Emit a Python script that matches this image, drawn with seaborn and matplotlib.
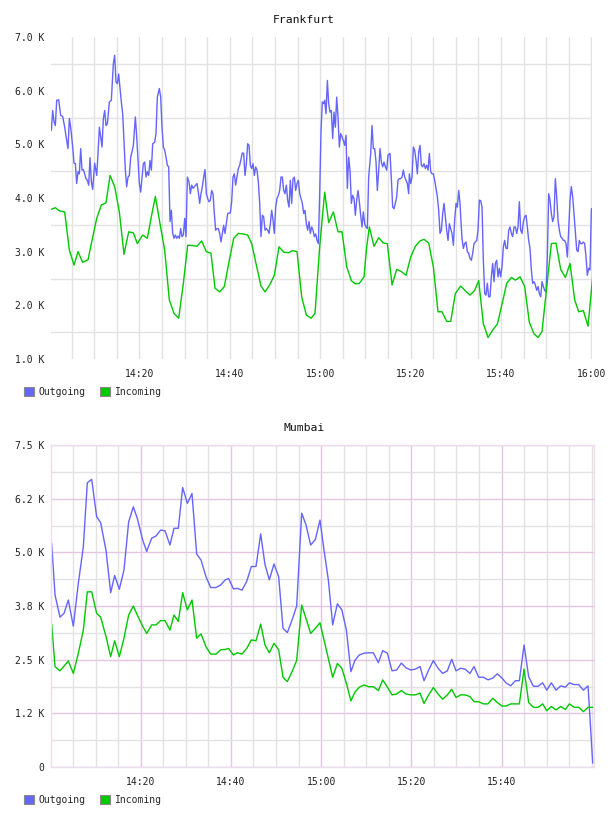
import numpy as np
import pandas as pd
import matplotlib
matplotlib.use("Agg")
import matplotlib.pyplot as plt
import seaborn as sns
from matplotlib.patches import Patch

sns.set_theme(style="white")
plt.rcParams['font.family'] = ['DejaVu Sans Mono', 'DejaVu Sans']

# ---------------- data (minutes after 14:00, bytes) ----------------
series_names = ["Outgoing", "Incoming"]
series_colors = ["#6464ff", "#00c800"]

fra_out_t = [0.54,0.83,1.13,1.42,1.72,2.16,2.60,3.04,3.49,3.93,4.22,4.52,4.81,5.26,5.55,5.85,6.14,6.44,6.73,7.03,
 7.32,7.62,7.91,8.21,8.50,8.80,9.09,9.39,9.68,10.12,10.57,10.86,11.16,11.45,11.75,12.04,12.34,12.63,12.93,13.37,
 13.81,14.25,14.55,14.84,15.14,15.43,15.73,16.02,16.32,16.61,16.91,17.20,17.50,17.79,18.09,18.38,18.68,19.12,19.42,19.71,
 20.01,20.30,20.60,20.89,21.19,21.48,21.78,22.07,22.37,22.66,22.96,23.40,23.69,23.99,24.43,24.73,25.02,25.32,25.61,25.91,
 26.20,26.50,26.79,27.09,27.38,27.68,27.97,28.27,28.56,28.86,29.15,29.45,29.74,30.04,30.33,30.63,30.99,31.29,31.58,31.88,
 32.17,32.47,32.76,33.06,33.35,33.65,33.94,34.24,34.53,34.83,35.12,35.42,35.71,36.01,36.30,36.60,36.89,37.19,37.48,37.78,
 38.07,38.37,38.66,38.96,39.25,39.55,39.84,40.14,40.43,40.73,41.02,41.32,41.61,41.91,42.20,42.50,42.79,43.09,43.38,43.68,
 43.97,44.27,44.56,44.86,45.15,45.45,45.74,46.04,46.33,46.63,46.92,47.22,47.51,47.81,48.10,48.40,48.69,48.99,49.28,49.58,
 49.87,50.17,50.46,50.76,51.05,51.35,51.64,51.94,52.23,52.53,52.82,53.12,53.41,53.71,54.00,54.30,54.59,54.89,55.18,55.48,
 55.77,56.07,56.36,56.66,56.95,57.25,57.54,57.84,58.13,58.43,58.72,59.02,59.31,59.61,59.90,60.20,60.49,60.79,61.01,61.30,
 61.60,61.89,62.19,62.48,62.78,63.07,63.37,63.66,63.96,64.25,64.55,64.84,65.14,65.43,65.73,66.02,66.32,66.61,66.91,67.20,
 67.50,67.79,68.09,68.38,68.68,68.97,69.27,69.56,69.86,70.15,70.45,70.74,71.19,71.48,71.78,72.07,72.37,72.66,72.96,73.25,
 73.55,73.84,74.14,74.43,74.73,75.02,75.46,75.76,76.05,76.35,76.64,76.94,77.23,77.53,77.82,78.12,78.41,78.71,79.00,79.30,
 79.59,79.74,80.04,80.33,80.63,80.92,81.22,81.51,81.81,82.10,82.40,82.69,82.99,83.28,83.58,83.87,84.17,84.46,84.76,85.05,
 85.35,85.64,85.94,86.23,86.53,86.82,87.12,87.41,87.71,88.00,88.30,88.59,88.89,89.18,89.48,89.77,90.07,90.36,90.66,90.95,
 91.10,91.39,91.69,91.98,92.28,92.57,92.87,93.16,93.46,93.75,94.05,94.34,94.64,94.93,95.23,95.52,95.82,96.11,96.41,96.70,
 97.00,97.29,97.59,97.88,98.18,98.47,98.77,99.06,99.36,99.65,99.95,100.24,100.54,100.83,101.13,101.42,101.72,102.01,102.31,102.60,
 102.90,103.19,103.49,103.78,104.08,104.37,104.67,104.96,105.26,105.55,105.85,106.14,106.44,106.73,107.03,107.32,107.62,107.91,108.21,108.50,
 108.80,109.09,109.39,109.68,109.98,110.27,110.57,110.86,111.16,111.45,111.75,112.04,112.34,112.63,112.93,113.22,113.52,113.81,114.11,114.40,
 114.70,114.99,115.29,115.58,115.88,116.17,116.47,116.76,117.06,117.35,117.65,117.94,118.24,118.53,118.83,119.12,119.42,119.71,120.01,120.30]
fra_out_v = [5260,5630,5420,5350,5820,5830,5540,5520,5320,5070,4920,5480,5320,4950,4650,4640,4270,4490,4450,4920,
 4520,4530,4450,4360,4330,4240,4750,4300,4160,4650,4420,4830,5320,5140,4950,5480,5630,5350,5380,5790,
 5820,6500,6660,6160,6130,6310,6040,5790,5570,5070,4520,4210,4390,4420,4760,4860,4980,5510,5140,4700,
 4270,4110,4390,4640,4670,4390,4490,4420,4700,4520,5010,5040,5200,5880,6040,5880,5320,4950,4890,4760,
 4610,4580,3560,3770,3340,3250,3310,3250,3290,3250,3430,3280,3310,3620,3280,4390,4300,4080,4240,4180,
 4210,4240,4270,4110,3900,4080,4210,4390,4530,4080,3990,3930,3960,4140,4080,3710,3400,3430,3430,3340,
 3180,3340,3490,3340,3520,3710,3720,3720,3930,4390,4450,4240,4390,4550,4610,4730,4840,4830,4420,4640,
 5010,4980,4610,4550,4640,4420,4580,4520,4300,3900,3280,3680,3650,3400,3430,3400,3340,3520,3770,3590,
 3340,3830,3990,4050,4140,4390,4390,4140,4080,4240,3960,3830,4330,3900,4360,4390,4140,4270,4330,4080,
 3990,3900,3710,3770,3520,3400,3560,3340,3460,3400,3280,3330,3210,3150,4080,5260,5790,5760,5820,5570,
 6190,5760,5600,5630,5110,5600,5320,5880,5510,4950,5200,5140,5070,4980,5170,4180,4760,4520,3900,4050,
 3990,3680,3960,4140,3930,3680,3460,3740,3520,3460,3430,4390,4830,5350,4920,4920,4670,4140,4520,4920,
 4670,4580,4670,4580,4520,4800,4830,4360,3830,3800,3900,4020,4330,4360,4360,4390,4520,4390,4330,4270,
 4080,4450,4270,4390,4950,4890,4700,4450,4860,4980,4610,4580,4640,4550,4610,4520,4830,4490,4450,4450,
 4330,4180,4020,3770,3340,3400,3710,3900,3650,3400,3210,3520,3430,3340,3120,3590,3900,3830,4140,3900,
 3650,3250,3060,3150,3180,3000,2970,2870,2840,2970,3150,3180,3210,3400,3960,3950,3830,2840,2220,2190,
 2410,2160,2160,2530,2780,2440,2780,2840,2530,2690,2530,2720,3090,3210,3060,3060,3400,3460,3340,3280,
 3460,3460,3340,3460,3930,3400,3340,3560,3650,3680,3460,3210,3060,2660,2410,2440,2380,2280,2350,2220,
 2160,2440,2350,2280,2250,2900,4080,3960,3710,3560,3650,4360,4020,3590,3400,3280,3250,3210,3210,3150,
 2900,3400,3960,4210,4020,3710,3370,3030,3000,3210,3150,3150,3180,3150,2900,2560,2690,2660,3800,3800]

fra_in_t = [0.54,1.42,2.31,3.49,4.52,5.55,6.44,7.47,8.65,9.39,10.57,11.60,12.63,13.52,14.55,15.58,16.61,17.65,18.68,19.56,
 20.74,21.78,22.66,23.55,24.58,25.61,26.64,27.68,28.71,29.74,30.70,31.73,32.76,33.79,34.82,35.85,36.75,37.78,38.81,39.84,
 40.88,41.91,42.94,43.97,44.86,45.89,46.92,47.81,48.84,49.87,50.91,51.94,52.97,54.00,54.89,55.92,56.95,57.99,58.87,59.90,
 61.01,61.89,62.93,63.96,64.84,65.88,66.91,67.79,68.68,69.71,70.30,70.89,71.92,72.96,73.99,74.87,75.91,76.94,77.97,79.00,
 80.04,81.07,82.10,82.99,84.02,85.05,86.08,86.97,88.00,88.89,89.92,91.10,92.13,93.16,94.20,95.08,96.11,97.15,98.18,99.21,
 100.24,101.28,102.31,103.19,104.23,105.26,106.29,107.32,108.21,109.09,109.98,111.16,112.19,113.22,114.26,115.29,116.32,117.21,118.24,119.27,
 120.30]
fra_in_v = [3790,3820,3760,3740,3030,2750,3000,2800,2850,3150,3620,3870,3910,4420,4210,3740,2950,3370,3350,3150,
 3310,3250,3650,4030,3520,3030,2100,1850,1760,2410,3120,3115,3100,3200,3000,2970,2320,2250,2350,2810,
 3250,3340,3330,3310,3150,2750,2360,2250,2380,2560,3090,2990,2980,3020,3000,2160,1820,1760,1850,3090,
 4110,3540,3740,3370,3370,2720,2460,2400,2410,2530,3090,3460,3100,3260,3160,3150,2380,2670,2630,2560,
 2900,3100,3200,3230,3160,2720,1880,1880,1700,1700,2220,2360,2270,2190,2280,2460,1660,1400,1540,1650,
 2020,2410,2520,2470,2530,2350,1680,1470,1400,1510,2220,3150,3160,2670,2520,2780,2100,1880,1900,1610,
 2530]

mum_t = [0.26,1.00,2.10,3.00,3.95,5.06,6.17,7.28,8.16,9.13,10.23,11.12,12.30,13.34,14.22,15.26,16.29,17.33,18.36,19.25,
 20.43,21.32,22.43,23.39,24.42,25.39,26.49,27.38,28.34,29.30,30.34,31.37,32.41,33.37,34.48,35.51,36.69,37.73,38.76,39.50,
 40.54,41.42,42.46,43.49,44.53,45.56,46.60,47.56,48.52,49.55,50.59,51.55,52.51,53.55,54.58,55.69,56.65,57.68,58.72,59.75,
 60.64,61.60,62.56,63.60,64.60,65.60,66.60,67.52,68.48,69.51,70.55,71.58,72.69,73.65,74.69,75.72,76.75,77.79,78.82,79.86,
 80.89,81.93,82.81,83.85,84.88,85.92,86.95,87.99,88.95,89.91,90.94,91.90,93.00,93.90,94.94,95.97,97.00,98.04,99.07,100.11,
 101.00,102.03,103.07,103.95,104.99,106.02,107.06,108.09,109.13,110.01,111.05,112.08,113.12,114.15,115.04,116.07,117.11,118.14,119.18,120.21]
mum_out_v = [5210,4010,3490,3580,3890,3280,4280,5130,6620,6700,5830,5690,5050,4060,4460,4140,4590,5710,6060,5790,
 5290,5020,5330,5380,5520,5500,5170,5560,5560,6510,6140,6370,4960,4820,4430,4180,4180,4240,4360,4390,
 4150,4160,4120,4320,4670,4670,5430,4710,4360,4730,4430,3230,3130,3420,3750,5910,5640,5170,5300,5750,
 5050,4360,3310,3800,3660,3190,2220,2490,2610,2650,2660,2660,2430,2710,2650,2240,2260,2420,2310,2260,
 2280,2340,2010,2260,2480,2300,2180,2240,2510,2240,2300,2280,2180,2340,2090,2090,2030,2070,2170,2070,
 1960,1890,2010,2010,2840,2100,1880,1880,1960,1790,1960,1790,1890,1860,1960,1920,1920,1790,1890,90]
mum_in_v = [3330,2340,2240,2350,2470,2180,2650,3190,4080,4080,3580,3490,3040,2570,2940,2570,3000,3540,3750,3540,
 3280,3110,3310,3310,3410,3410,3190,3540,3390,4060,3660,3890,3000,3100,2800,2630,2630,2730,2740,2760,
 2610,2660,2630,2760,2960,2940,3330,2840,2660,2880,2730,2090,1990,2220,2480,3770,3460,3110,3230,3360,
 2960,2530,2090,2410,2300,1950,1540,1750,1860,1910,1870,1870,1780,2030,1860,1680,1700,1780,1700,1680,
 1680,1720,1480,1680,1850,1700,1580,1680,1810,1620,1680,1680,1640,1520,1520,1470,1470,1600,1500,1420,
 1420,1470,1470,1470,2280,1500,1390,1390,1470,1310,1410,1330,1410,1340,1470,1390,1390,1290,1390,1390]

fra_yticks = [1000, 2000, 3000, 4000, 5000, 6000, 7000]
fra_ylabels = ["1.0 K", "2.0 K", "3.0 K", "4.0 K", "5.0 K", "6.0 K", "7.0 K"]
mum_yticks = [0, 1250, 2500, 3750, 5000, 6250, 7500]
mum_ylabels = ["0", "1.2 K", "2.5 K", "3.8 K", "5.0 K", "6.2 K", "7.5 K"]
fra_xticks = [20, 40, 60, 80, 100, 120]
fra_xlabels = ["14:20", "14:40", "15:00", "15:20", "15:40", "16:00"]
mum_xticks = [20, 40, 60, 80, 100]
mum_xlabels = ["14:20", "14:40", "15:00", "15:20", "15:40"]

# ---------------- figure ----------------
W, H = 608, 816
fig = plt.figure(figsize=(W / 100, H / 100), dpi=100)
ax1 = fig.add_axes([51 / W, 1 - 359 / H, 541 / W, 322 / H])
ax2 = fig.add_axes([51 / W, 1 - 767 / H, 543 / W, 322 / H])

GRAY = "#e2e2e2"
PINK = "#e2c6e2"
FRAME = "#eedcee"
TXT = "#222222"

def draw(ax, t1, v1, t2, v2):
    sns.lineplot(x=t1, y=v1, ax=ax, color=series_colors[0], lw=1.0,
                 estimator=None, sort=False, legend=False)
    sns.lineplot(x=t2, y=v2, ax=ax, color=series_colors[1], lw=1.0,
                 estimator=None, sort=False, legend=False)
    ax.set_xlabel("")
    ax.set_ylabel("")

draw(ax1, fra_out_t, fra_out_v, fra_in_t, fra_in_v)
draw(ax2, mum_t, mum_out_v, mum_t, mum_in_v)

# Frankfurt axes
ax1.set_xlim(0.46, 120.15)
ax1.set_ylim(1000, 7000)
ax1.set_yticks(fra_yticks)
ax1.set_yticklabels(fra_ylabels)
ax1.set_yticks([1500, 2500, 3500, 4500, 5500, 6500], minor=True)
ax1.set_xticks(fra_xticks)
ax1.set_xticklabels(fra_xlabels)
ax1.set_xticks(np.arange(5, 121, 5), minor=True)
ax1.xaxis.grid(True, which="both", color=GRAY, lw=1.0)
ax1.yaxis.grid(True, which="minor", color=GRAY, lw=1.0)
ax1.yaxis.grid(False, which="major")
for s in ax1.spines.values():
    s.set_visible(False)

# Mumbai axes
ax2.set_xlim(0.11, 120.5)
ax2.set_ylim(0, 7500)
ax2.set_yticks(mum_yticks)
ax2.set_yticklabels(mum_ylabels)
ax2.set_yticks([625, 1875, 3125, 4375, 5625, 6875], minor=True)
ax2.set_xticks(mum_xticks)
ax2.set_xticklabels(mum_xlabels)
ax2.set_xticks(np.arange(5, 121, 5), minor=True)
ax2.grid(True, which="minor", color=GRAY, lw=1.0)
ax2.grid(True, which="major", color=PINK, lw=1.0)
for s in ax2.spines.values():
    s.set_visible(True)
    s.set_color(FRAME)
    s.set_linewidth(1.0)

for ax in (ax1, ax2):
    ax.set_axisbelow(True)
    ax.tick_params(which="both", length=0, labelsize=7, colors=TXT)
    ax.tick_params(axis="y", pad=5)
    ax.tick_params(axis="x", pad=7)

fig.text(0.5, 1 - 20 / H, "Frankfurt", ha="center", va="center", fontsize=8.2, color="#111111")
fig.text(0.5, 1 - 428 / H, "Mumbai", ha="center", va="center", fontsize=8.2, color="#111111")

handles = [Patch(facecolor=c, edgecolor="#8a8a8a", lw=0.8, label=n)
           for c, n in zip(series_colors, series_names)]
for ycen in (392, 800):
    fig.legend(handles=handles, loc="center left", bbox_to_anchor=(24 / W, 1 - ycen / H),
               ncol=2, frameon=False, fontsize=7, handlelength=1.0, handleheight=1.0,
               handletextpad=0.5, columnspacing=1.5, borderpad=0, borderaxespad=0)

fig.savefig("out.png", dpi=100, facecolor="white")
